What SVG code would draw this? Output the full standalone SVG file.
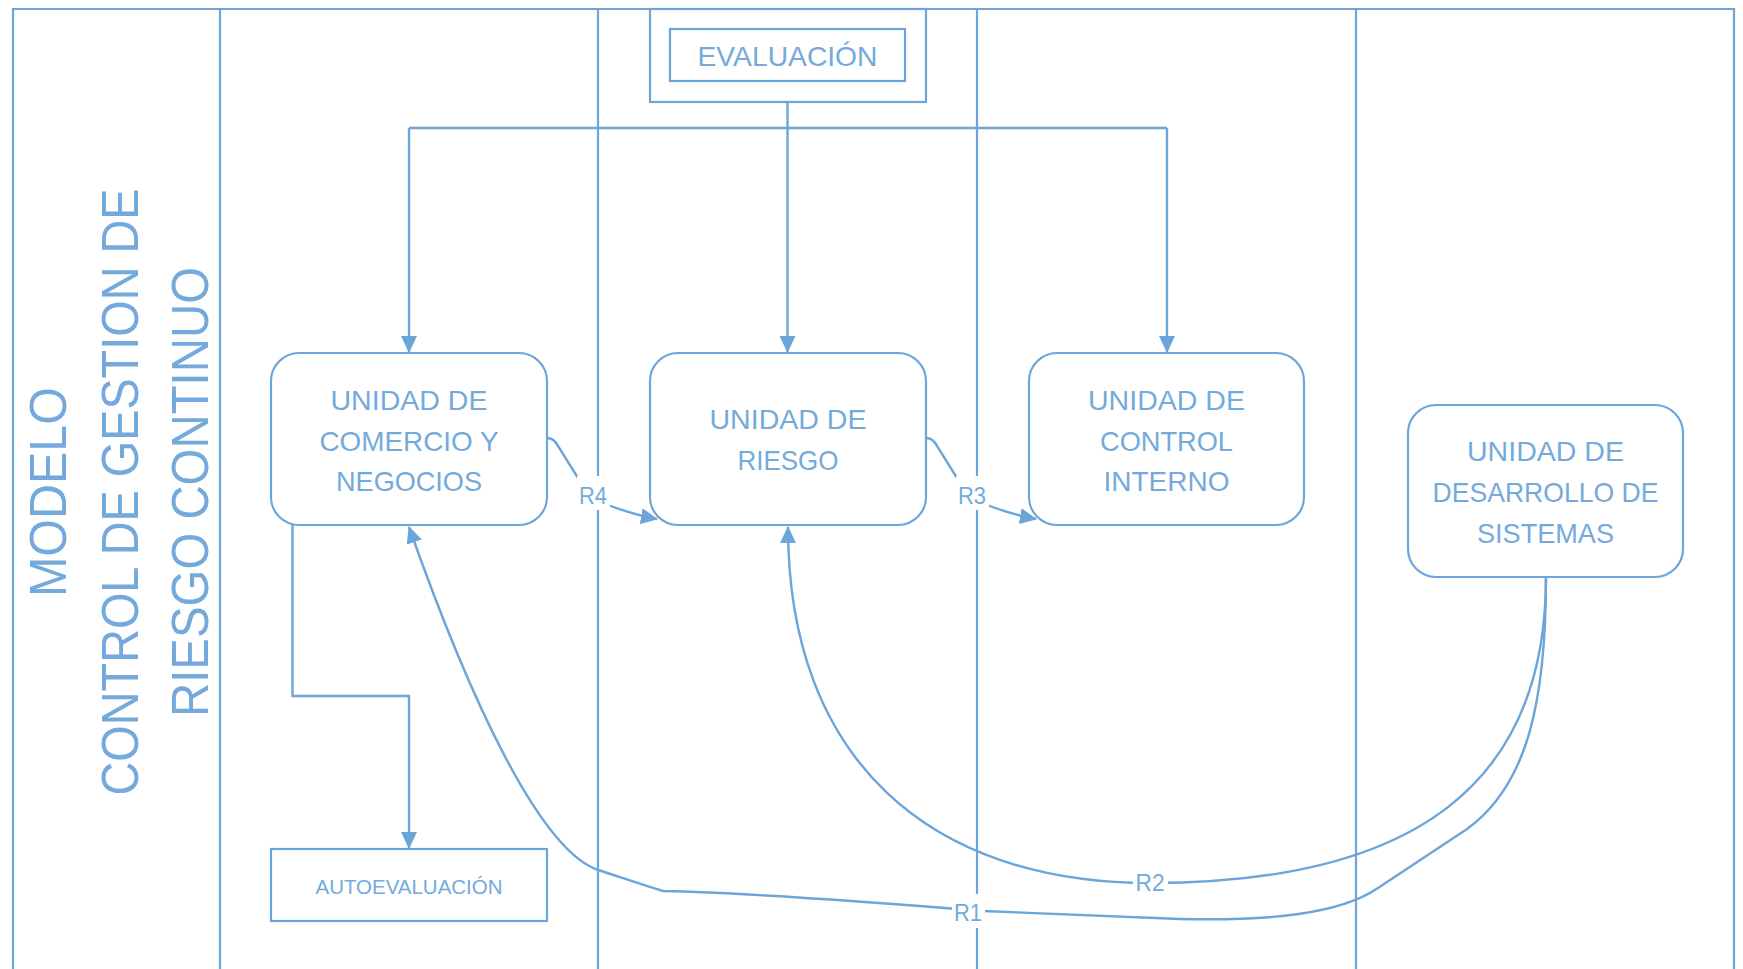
<svg xmlns="http://www.w3.org/2000/svg" width="1743" height="969" viewBox="0 0 1743 969">
  <defs>
    <style>
      .frame { fill: none; stroke: #6BA5D9; stroke-width: 2.2; }
      .node { fill: #FFFFFF; stroke: #6BA5D9; stroke-width: 2.2; }
      .conn { fill: none; stroke: #6BA5D9; stroke-width: 2.4; }
      .txt { font-family: "Liberation Sans", Arial, sans-serif; fill: #74AADB; text-anchor: middle; }
      .unit { font-size: 28px; }
      .title { font-size: 52px; }
      .lbl { font-size: 24px; }
      .lblbg { fill: #FFFFFF; stroke: none; }
    </style>
    <marker id="arrow" markerUnits="userSpaceOnUse" viewBox="0 0 17 16" markerWidth="17" markerHeight="16" refX="16" refY="8" orient="auto">
      <path d="M0,0 L17,8 L0,16 z" fill="#6BA5D9"/>
    </marker>
  </defs>

  <rect width="1743" height="969" fill="#FFFFFF"/>

  <!-- swimlane frame -->
  <g id="lanes">
    <path class="frame" d="M13,969 L13,9 L1734,9 L1734,969"/>
    <line class="frame" x1="220" y1="9" x2="220" y2="969"/>
    <line class="frame" x1="598" y1="9" x2="598" y2="969"/>
    <line class="frame" x1="977" y1="9" x2="977" y2="969"/>
    <line class="frame" x1="1356" y1="9" x2="1356" y2="969"/>
  </g>

  <!-- lane title -->
  <g id="title">
    <text class="txt title" transform="translate(66,492) rotate(-90)" textLength="210" lengthAdjust="spacingAndGlyphs">MODELO</text>
    <text class="txt title" transform="translate(138,492) rotate(-90)" textLength="607" lengthAdjust="spacingAndGlyphs">CONTROL DE GESTION DE</text>
    <text class="txt title" transform="translate(208,492) rotate(-90)" textLength="450" lengthAdjust="spacingAndGlyphs">RIESGO CONTINUO</text>
  </g>

  <!-- connectors -->
  <g id="connectors">
    <line class="conn" x1="787.5" y1="102" x2="787.5" y2="352" marker-end="url(#arrow)"/>
    <line class="conn" x1="409" y1="128" x2="1167" y2="128"/>
    <line class="conn" x1="409" y1="128" x2="409" y2="352" marker-end="url(#arrow)"/>
    <line class="conn" x1="1167" y1="128" x2="1167" y2="352" marker-end="url(#arrow)"/>
    <path class="conn" d="M282,517 L292.5,517 L292.5,696 L409,696 L409,848" marker-end="url(#arrow)"/>
    <!-- R4 -->
    <path class="conn" d="M547,438 C553,438 556,442 558,446 L578,478"/>
    <path class="conn" d="M608,505 C624,511 640,516 657,519" marker-end="url(#arrow)"/>
    <!-- R3 -->
    <path class="conn" d="M926,438 C932,438 935,442 937,446 L957,478"/>
    <path class="conn" d="M987,505 C1003,511 1019,516 1036,519" marker-end="url(#arrow)"/>
    <!-- R2 -->
    <path class="conn" d="M1546,577 C1546,780 1420,883 1150,883 C930,883 788,760 788,527" marker-end="url(#arrow)"/>
    <!-- R1 -->
    <path class="conn" d="M1546,577 C1546,700 1528,785 1467,829 L1378,888 C1340,914 1270,921 1180,919 L983,911 Q760,893 663,891 C640,884 620,877 598,870 C540,850 470,700 409,527" marker-end="url(#arrow)"/>
  </g>

  <!-- connector labels -->
  <g id="labels">
    <rect class="lblbg" x="577" y="476" width="33" height="34"/>
    <text class="txt lbl" x="593" y="504" textLength="28" lengthAdjust="spacingAndGlyphs">R4</text>
    <rect class="lblbg" x="956" y="476" width="33" height="34"/>
    <text class="txt lbl" x="972" y="504" textLength="28" lengthAdjust="spacingAndGlyphs">R3</text>
    <rect class="lblbg" x="1133" y="865" width="35" height="32"/>
    <text class="txt lbl" x="1150" y="891" textLength="29" lengthAdjust="spacingAndGlyphs">R2</text>
    <rect class="lblbg" x="952" y="894" width="33" height="34"/>
    <text class="txt lbl" x="968" y="921" textLength="28" lengthAdjust="spacingAndGlyphs">R1</text>
  </g>

  <!-- nodes -->
  <g id="evaluacion">
    <rect class="node" x="650" y="9" width="276" height="93"/>
    <rect class="node" x="670" y="29" width="235" height="52"/>
    <text class="txt unit" x="787.5" y="66" textLength="180" lengthAdjust="spacingAndGlyphs">EVALUACIÓN</text>
  </g>

  <g id="comercio">
    <rect class="node" x="271" y="353" width="276" height="172" rx="28" ry="28"/>
    <text class="txt unit" x="409" y="410" textLength="157" lengthAdjust="spacingAndGlyphs">UNIDAD DE</text>
    <text class="txt unit" x="409" y="451" textLength="179" lengthAdjust="spacingAndGlyphs">COMERCIO Y</text>
    <text class="txt unit" x="409" y="491" textLength="146" lengthAdjust="spacingAndGlyphs">NEGOCIOS</text>
  </g>

  <g id="riesgo">
    <rect class="node" x="650" y="353" width="276" height="172" rx="28" ry="28"/>
    <text class="txt unit" x="788" y="429" textLength="157" lengthAdjust="spacingAndGlyphs">UNIDAD DE</text>
    <text class="txt unit" x="788" y="470" textLength="101" lengthAdjust="spacingAndGlyphs">RIESGO</text>
  </g>

  <g id="control-interno">
    <rect class="node" x="1029" y="353" width="275" height="172" rx="28" ry="28"/>
    <text class="txt unit" x="1166.5" y="410" textLength="157" lengthAdjust="spacingAndGlyphs">UNIDAD DE</text>
    <text class="txt unit" x="1166.5" y="451" textLength="133" lengthAdjust="spacingAndGlyphs">CONTROL</text>
    <text class="txt unit" x="1166.5" y="491" textLength="126" lengthAdjust="spacingAndGlyphs">INTERNO</text>
  </g>

  <g id="desarrollo">
    <rect class="node" x="1408" y="405" width="275" height="172" rx="28" ry="28"/>
    <text class="txt unit" x="1545.5" y="461" textLength="157" lengthAdjust="spacingAndGlyphs">UNIDAD DE</text>
    <text class="txt unit" x="1545.5" y="502" textLength="226" lengthAdjust="spacingAndGlyphs">DESARROLLO DE</text>
    <text class="txt unit" x="1545.5" y="543" textLength="137" lengthAdjust="spacingAndGlyphs">SISTEMAS</text>
  </g>

  <g id="autoevaluacion">
    <rect class="node" x="271" y="849" width="276" height="72"/>
    <text class="txt" x="409" y="894" font-size="19.5" textLength="187" lengthAdjust="spacingAndGlyphs">AUTOEVALUACIÓN</text>
  </g>
</svg>
